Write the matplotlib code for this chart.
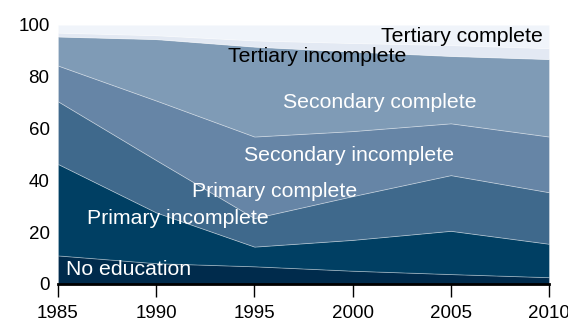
import matplotlib
matplotlib.use("Agg")
import matplotlib.pyplot as plt

plt.rcParams['font.family'] = ['Liberation Sans', 'DejaVu Sans']

years = [1985, 1990, 1995, 2000, 2005, 2010]

# Share of population (%) by highest educational attainment
no_education         = [11.0, 8.0, 6.8, 5.1, 3.8, 2.6]
primary_incomplete   = [35.3, 19.6, 7.6, 11.9, 16.7, 12.9]
primary_complete     = [24.2, 20.2, 11.0, 16.9, 21.5, 19.9]
secondary_incomplete = [13.8, 23.0, 31.5, 25.1, 20.0, 21.5]
secondary_complete   = [11.2, 23.7, 34.7, 30.7, 26.0, 29.9]
tertiary_incomplete  = [1.5, 1.5, 2.4, 3.3, 4.2, 4.2]
tertiary_complete    = [3.0, 4.0, 6.0, 7.0, 7.8, 9.0]

series = [no_education, primary_incomplete, primary_complete,
          secondary_incomplete, secondary_complete,
          tertiary_incomplete, tertiary_complete]
colors = ["#002b4c", "#003f63", "#3f698c", "#6685a6", "#7f9bb6",
          "#e3e9f3", "#f0f4fa"]

fig = plt.figure(figsize=(5.68, 3.23), dpi=100)
ax = fig.add_axes([0.102, 0.121, 0.8645, 0.802])

ax.stackplot(years, *series, colors=colors, linewidth=0.6,
             edgecolor=(1, 1, 1, 0.35))

ax.set_xlim(1985, 2010)
ax.set_ylim(0, 100)
ax.set_xticks(years)
ax.set_yticks(range(0, 101, 20))

for s in ["top", "right", "left"]:
    ax.spines[s].set_visible(False)
ax.spines["bottom"].set_linewidth(2)
ax.spines["bottom"].set_zorder(5)
ax.tick_params(axis="x", length=9, width=1, labelsize=13.5, pad=6.3)
ax.tick_params(axis="y", length=0, labelsize=13.5, pad=6)

# In-area labels: (x in years, y in %, color)
labels = [
    ("No education", 1988.6, 5.4, "white"),
    ("Primary incomplete", 1991.1, 25.1, "white"),
    ("Primary complete", 1996.05, 35.5, "white"),
    ("Secondary incomplete", 1999.8, 49.4, "white"),
    ("Secondary complete", 2001.4, 69.9, "white"),
    ("Tertiary incomplete", 1998.2, 87.6, "black"),
    ("Tertiary complete", 2005.55, 95.5, "black"),
]
for text, x, y, c in labels:
    ax.text(x, y, text, color=c, fontsize=15.3, ha="center", va="center")

fig.savefig("out.png", dpi=100)
